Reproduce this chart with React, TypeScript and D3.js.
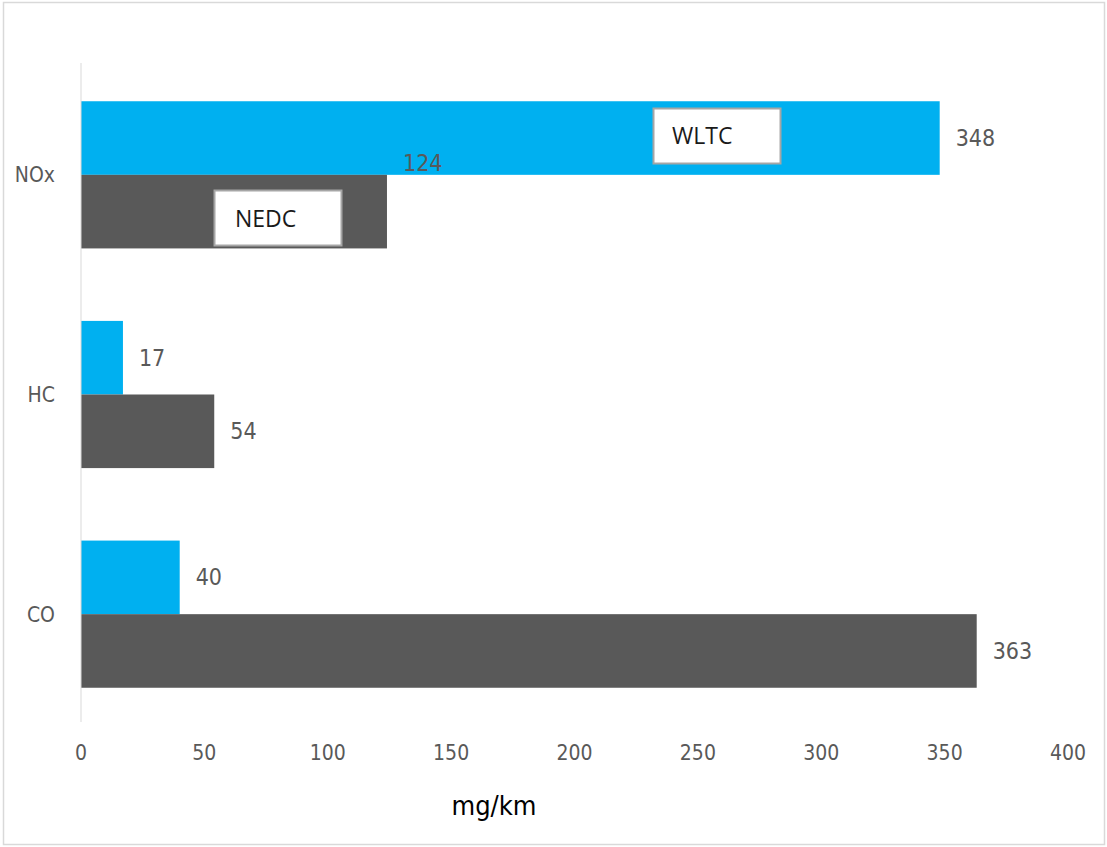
import React from "react";
import * as d3 from "d3";

const categories = ["NOx", "HC", "CO"];
const seriesNames = ["WLTC", "NEDC"];
const wltcValues = [348, 17, 40];
const nedcValues = [124, 54, 363];
const xTicks = [0, 50, 100, 150, 200, 250, 300, 350, 400];
const axisTitle = "mg/km";

const W = 1107;
const H = 847;
const plot = { left: 81, right: 1068, top: 63, bottom: 722 };
const colors: Record<string, string> = { WLTC: "#00B0F0", NEDC: "#595959" };

export default function App() {
  const x = d3.scaleLinear().domain([0, 400]).range([plot.left, plot.right]);
  const y = d3.scaleBand<string>().domain(categories).range([plot.top + 2, plot.bottom + 2]).paddingInner(0.33).paddingOuter(0.165);
  const sub = d3.scaleBand<string>().domain(seriesNames).range([0, y.bandwidth()]);
  const values: Record<string, number[]> = { WLTC: wltcValues, NEDC: nedcValues };
  const font = "'Liberation Sans Narrow', 'DejaVu Sans Condensed', 'Open Sans', sans-serif";

  return (
    <svg width={W} height={H} style={{ position: "absolute", left: 0, top: 0 }}>
      <rect x={0} y={0} width={W} height={H} fill="#fff" />
      <rect x={3.5} y={2.5} width={W - 6} height={H - 5} fill="none" stroke="#D9D9D9" strokeWidth={1.5} />
      {categories.map((c, i) =>
        seriesNames.map((s) => {
          const v = values[s][i];
          const by = (y(c) as number) + (sub(s) as number);
          const bh = sub.bandwidth();
          const dy = c === "NOx" && s === "NEDC" ? -49 : 0;
          return (
            <g key={c + s}>
              <rect x={x(0)} y={by} width={x(v) - x(0)} height={bh} fill={colors[s]} />
              <text x={x(v) + 16} y={by + bh / 2 + dy} dy="0.35em" fontFamily={font} fontSize={23} fill="#595959">
                {v}
              </text>
            </g>
          );
        })
      )}
      <line x1={plot.left} x2={plot.left} y1={plot.top} y2={plot.bottom} stroke="#D9D9D9" strokeWidth={1} />
      {categories.map((c) => (
        <text key={c} x={55} y={(y(c) as number) + y.bandwidth() / 2} dy="0.35em" textAnchor="end" fontFamily={font} fontSize={21} fill="#595959">
          {c}
        </text>
      ))}
      {xTicks.map((t) => (
        <text key={t} x={x(t)} y={753} dy="0.35em" textAnchor="middle" fontFamily={font} fontSize={21} fill="#595959">
          {t}
        </text>
      ))}
      <text x={494} y={815} textAnchor="middle" fontFamily={font} fontSize={27} fill="#000">
        {axisTitle}
      </text>
      <g>
        <rect x={653.5} y={108.5} width={127} height={55} fill="#fff" stroke="#A6A6A6" strokeWidth={2} />
        <text x={672} y={136} dy="0.35em" fontFamily="'Open Sans', sans-serif" fontSize={23} fill="#1a1a1a">WLTC</text>
        <rect x={214.5} y={190.5} width={127} height={55} fill="#fff" stroke="#A6A6A6" strokeWidth={2} />
        <text x={235} y={219} dy="0.35em" fontFamily="'Open Sans', sans-serif" fontSize={23} fill="#1a1a1a">NEDC</text>
      </g>
    </svg>
  );
}
